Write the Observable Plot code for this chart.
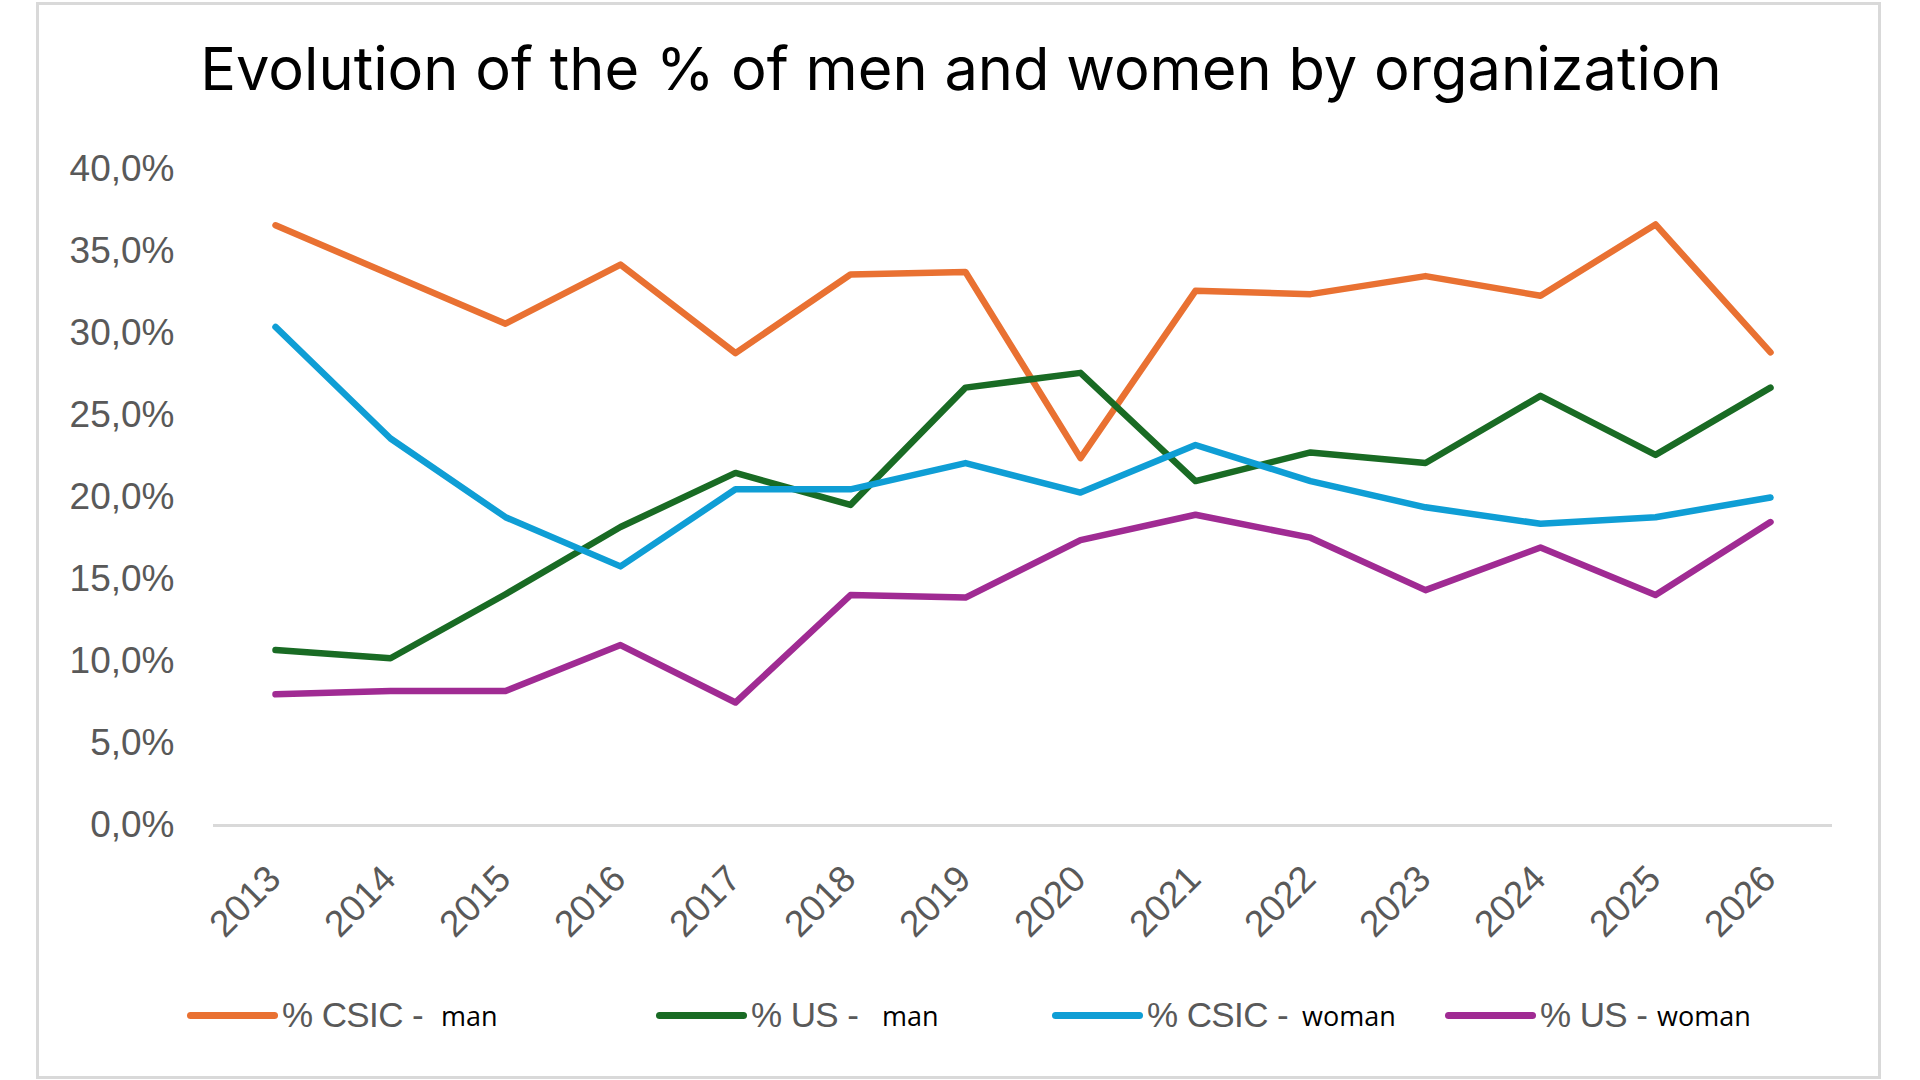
<!DOCTYPE html>
<html>
<head>
<meta charset="utf-8">
<script src="https://cdn.jsdelivr.net/npm/d3@7"></script>
<script src="https://cdn.jsdelivr.net/npm/@observablehq/plot@0.6"></script>
<style>
  html, body { margin: 0; padding: 0; background: #fff; }
  #page { position: relative; width: 1920px; height: 1080px; overflow: hidden; background: #fff; }
  #frame { position: absolute; left: 36px; top: 2px; width: 1839px; height: 1071px; border: 3px solid #d9d9d9; }
  #title { position: absolute; left: 0; width: 1922px; top: 39px; text-align: center; font-family: Inter, "Noto Sans", sans-serif; font-size: 56px; line-height: 1; color: #000; white-space: nowrap; }
  #chart { position: absolute; left: 0; top: 0; }
  .leg { position: absolute; top: 993px; height: 44px; }
  .sw { position: absolute; top: 19px; height: 7px; width: 91px; border-radius: 4px; }
  .pre { position: absolute; top: 0; font-family: "Liberation Sans", Arial, sans-serif; font-size: 35px; line-height: 44px; color: #595959; white-space: nowrap; letter-spacing: -0.6px; }
  .suf { position: absolute; top: 1px; font-family: "Open Sans", sans-serif; font-size: 27px; line-height: 44px; color: #000; white-space: nowrap; }
</style>
</head>
<body>
<div id="page">
  <div id="frame"></div>
  <div id="title"></div>
  <div id="chart"></div>
</div>
<script>
const titleText = "Evolution of the % of men and women by organization";
const years = ["2013","2014","2015","2016","2017","2018","2019","2020","2021","2022","2023","2024","2025","2026"];
const csicMan   = [36.6, 33.6, 30.6, 34.2, 28.8, 33.6, 33.75, 22.4, 32.6, 32.4, 33.5, 32.3, 36.65, 28.85];
const usMan     = [10.7, 10.2, 14.1, 18.2, 21.5, 19.55, 26.7, 27.6, 21.0, 22.75, 22.1, 26.2, 22.6, 26.7];
const csicWoman = [30.4, 23.6, 18.8, 15.8, 20.5, 20.5, 22.1, 20.3, 23.2, 21.0, 19.4, 18.4, 18.8, 20.0];
const usWoman   = [8.0, 8.2, 8.2, 11.0, 7.5, 14.05, 13.9, 17.4, 18.95, 17.55, 14.35, 16.95, 14.05, 18.5];
const yTicks = [0, 5, 10, 15, 20, 25, 30, 35, 40];
const seriesKeys = ["csicMan", "usMan", "csicWoman", "usWoman"];
const seriesColors = ["#E97132", "#196B24", "#0F9ED5", "#A02B93"];
const legendPrefix = ["% CSIC -", "% US -", "% CSIC -", "% US -"];
const legendSuffix = ["man", "man", "woman", "woman"];

const seriesValues = [csicMan, usMan, csicWoman, usWoman];
const rows = [];
seriesKeys.forEach((k, si) => {
  years.forEach((yr, i) => rows.push({series: k, year: yr, value: seriesValues[si][i]}));
});

// title, fitted to the reference width
const titleEl = document.getElementById("title");
titleEl.textContent = titleText;
(function fitTitle() {
  const c = document.createElement("canvas").getContext("2d");
  c.font = '100px Inter';
  const w = c.measureText(titleText).width;
  const target = 1522;
  const fs = Math.max(40, Math.min(64, 100 * target / w));
  titleEl.style.fontSize = fs + "px";
})();

const fmt = d => d.toFixed(1).replace(".", ",") + "%";

const plot = Plot.plot({
  width: 1920,
  height: 980,
  marginTop: 169,
  marginBottom: 155,
  marginLeft: 213,
  marginRight: 88,
  style: {background: "transparent", overflow: "visible"},
  x: {type: "point", domain: years, padding: 0.5, axis: null},
  y: {domain: [0, 40], axis: null},
  color: {domain: seriesKeys, range: seriesColors},
  marks: [
    Plot.ruleY([0], {stroke: "#d9d9d9", strokeWidth: 3}),
    Plot.text(yTicks, {
      y: d => d, text: d => fmt(d),
      textAnchor: "end", frameAnchor: "left", dx: -39,
      fontSize: 37, fill: "#595959", fontFamily: "Liberation Sans, Arial, sans-serif"
    }),
    Plot.text(years, {
      x: d => d, y: () => 0, text: d => d,
      rotate: -45, textAnchor: "end", lineAnchor: "middle",
      dx: -1, dy: 47,
      fontSize: 37, fill: "#595959", fontFamily: "Liberation Sans, Arial, sans-serif"
    }),
    Plot.line(rows, {
      x: "year", y: "value", z: "series", stroke: "series",
      strokeWidth: 6.5, strokeLinejoin: "round", strokeLinecap: "round"
    })
  ]
});
document.getElementById("chart").appendChild(plot);

// legend
const page = document.getElementById("page");
const swatchLeft = [187, 656, 1052, 1445];
const suffixLeft = [441, 882, 1302, 1657];
seriesKeys.forEach((k, i) => {
  const leg = document.createElement("div");
  leg.className = "leg";
  leg.style.left = "0px";
  const sw = document.createElement("div");
  sw.className = "sw";
  sw.style.left = swatchLeft[i] + "px";
  sw.style.background = seriesColors[i];
  const pre = document.createElement("span");
  pre.className = "pre";
  pre.style.left = (swatchLeft[i] + 95) + "px";
  pre.textContent = legendPrefix[i];
  const suf = document.createElement("span");
  suf.className = "suf";
  suf.style.left = suffixLeft[i] + "px";
  suf.textContent = legendSuffix[i];
  leg.appendChild(sw); leg.appendChild(pre); leg.appendChild(suf);
  page.appendChild(leg);
});
</script>
</body>
</html>
